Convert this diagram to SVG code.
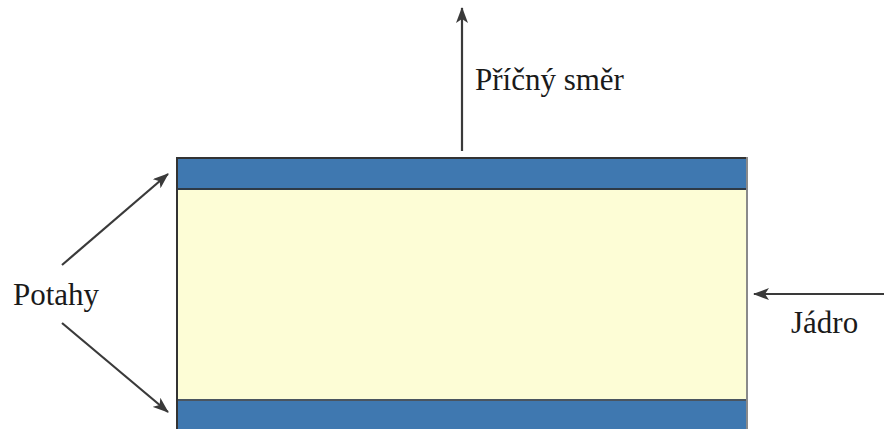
<svg xmlns="http://www.w3.org/2000/svg" width="884" height="429" viewBox="0 0 884 429">
  <style>
    .lbl { font-family: "Liberation Serif", "Times New Roman", serif; font-size: 31px; fill: #1a1a1a; }
    .arrow { stroke: #3a3a3a; stroke-width: 2.2; fill: none; marker-end: url(#head); }
    .skin { fill: #3f78b0; }
    .core { fill: #fdfdd6; }
  </style>
  <defs>
    <marker id="head" viewBox="0 0 16 12" refX="15" refY="6" markerWidth="16" markerHeight="12" markerUnits="userSpaceOnUse" orient="auto">
      <path d="M0,0 L16,6 L0,12 L4,6 Z" fill="#3a3a3a"/>
    </marker>
  </defs>

  <rect width="884" height="429" fill="#ffffff"/>

  <!-- sandwich panel -->
  <g id="panel">
    <rect class="core" x="177" y="189" width="570" height="211"/>
    <rect class="skin" x="177" y="158" width="570" height="31"/>
    <rect class="skin" x="177" y="400" width="570" height="29"/>
    <line x1="177" y1="189" x2="747" y2="189" stroke="#2e3a46" stroke-width="2"/>
    <line x1="177" y1="400" x2="747" y2="400" stroke="#4a5560" stroke-width="2"/>
    <line x1="176" y1="158" x2="748" y2="158" stroke="#333333" stroke-width="2"/>
    <line x1="177" y1="157" x2="177" y2="429" stroke="#333333" stroke-width="2"/>
    <line x1="747" y1="157" x2="747" y2="429" stroke="#8a8a8a" stroke-width="2"/>
  </g>

  <!-- connectors -->
  <g id="connectors">
    <line class="arrow" x1="462" y1="151" x2="462" y2="8"/>
    <line class="arrow" x1="62" y1="265" x2="168" y2="174"/>
    <line class="arrow" x1="62" y1="323" x2="168" y2="412"/>
    <line class="arrow" x1="884" y1="294" x2="754" y2="294"/>
  </g>

  <g id="label-direction">
    <text class="lbl" x="475" y="90">Příčný směr</text>
  </g>
  <g id="label-skins">
    <text class="lbl" x="13" y="305">Potahy</text>
  </g>
  <g id="label-core">
    <text class="lbl" x="791" y="333">Jádro</text>
  </g>
</svg>
